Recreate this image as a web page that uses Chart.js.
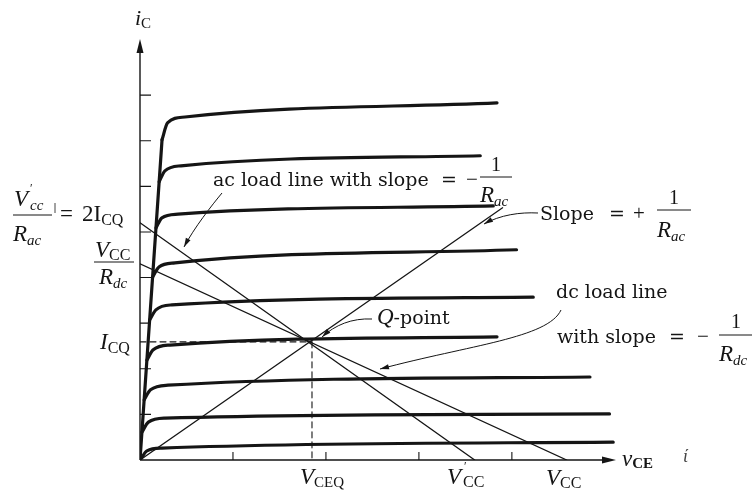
<!DOCTYPE html>
<html>
<head>
<meta charset="utf-8">
<script src="https://cdn.jsdelivr.net/npm/chart.js@4.4.1/dist/chart.umd.min.js"></script>
<style>
html, body { margin: 0; padding: 0; background: #fff; }
</style>
</head>
<body>
<canvas id="chart" width="754" height="499"></canvas>
<script>
// Transistor output characteristics with the dc and ac load lines

// tick marks on the axes
const vceTicks = [1, 2, 3, 4];
const icTicks = [1, 2, 3, 4, 5, 6, 7, 8];

// saturation edge shared by all curves
const satVce = [0, 0.237];
const satIc = [0, 7.02];

// one row per base-current curve: leaving the saturation edge, knee, flat part
const curveVce = [
  [0.237, 0.296, 0.484, 3.84],
  [0.206, 0.268, 0.441, 3.66],
  [0.172, 0.236, 0.409, 3.80],
  [0.136, 0.204, 0.376, 4.05],
  [0.104, 0.171, 0.344, 4.23],
  [0.074, 0.139, 0.323, 3.84],
  [0.045, 0.113, 0.301, 4.84],
  [0.021, 0.090, 0.269, 5.05],
  [0.000, 0.075, 0.237, 5.09]
];
const curveIc = [
  [7.02, 7.39, 7.52, 7.83],
  [6.10, 6.34, 6.45, 6.67],
  [5.09, 5.31, 5.39, 5.57],
  [4.01, 4.23, 4.32, 4.61],
  [3.07, 3.29, 3.40, 3.57],
  [2.19, 2.41, 2.52, 2.70],
  [1.32, 1.54, 1.64, 1.82],
  [0.61, 0.83, 0.92, 1.01],
  [0.00, 0.20, 0.26, 0.39]
];

// operating point and load lines
const vceq = 1.85, icq = 2.59;
const vccAc = 3.6, icAcMax = 5.2;     // V'cc and V'cc/Rac
const vccDc = 4.59, icDcMax = 4.3;    // Vcc and Vcc/Rdc
const posSlopeEnd = [3.9, 5.53];      // end of the +1/Rac line

const ink = '#151515';
const pts = (xs, ys) => xs.map((x, i) => ({ x: x, y: ys[i] }));

const datasets = [];
curveVce.forEach((xs, i) => {
  datasets.push({ data: pts(xs, curveIc[i]), borderWidth: 3.2, cubicInterpolationMode: 'monotone' });
});
datasets.push({ data: pts(satVce, satIc), borderWidth: 3.2 });
datasets.push({ data: pts([0, vccAc], [icAcMax, 0]), borderWidth: 1.3 });
datasets.push({ data: pts([0, vccDc], [icDcMax, 0]), borderWidth: 1.3 });
datasets.push({ data: pts([0, posSlopeEnd[0]], [0, posSlopeEnd[1]]), borderWidth: 1.3 });
datasets.push({ data: pts([0, vceq], [icq, icq]), borderWidth: 1.1, borderDash: [6, 4] });
datasets.push({ data: pts([vceq, vceq], [icq, 0]), borderWidth: 1.1, borderDash: [6, 4] });
datasets.forEach(d => {
  d.borderColor = ink;
  d.pointRadius = 0;
  d.fill = false;
  d.borderCapStyle = 'round';
});

const IT = 'italic 23px "Liberation Serif"';
const WORD = '19px "DejaVu Serif"';
const SUB = '16px "Liberation Serif"';
const SUBIT = 'italic 15px "Liberation Serif"';
const MATH = '21px "Liberation Serif"';
const ONE = '20px "Liberation Serif"';

// draw a run of text pieces: [text, font, dy]
function run(ctx, x, y, parts) {
  let cx = x;
  parts.forEach(p => {
    ctx.font = p[1];
    ctx.fillText(p[0], cx, y + (p[2] || 0));
    cx += ctx.measureText(p[0]).width;
  });
  return cx;
}

function hline(ctx, x1, x2, y) {
  ctx.beginPath();
  ctx.moveTo(x1, y);
  ctx.lineTo(x2, y);
  ctx.stroke();
}

function arrowHead(ctx, x, y, fromX, fromY, len, half) {
  const a = Math.atan2(y - fromY, x - fromX);
  ctx.beginPath();
  ctx.moveTo(x, y);
  ctx.lineTo(x - len * Math.cos(a) + half * Math.sin(a), y - len * Math.sin(a) - half * Math.cos(a));
  ctx.lineTo(x - len * Math.cos(a) - half * Math.sin(a), y - len * Math.sin(a) + half * Math.cos(a));
  ctx.closePath();
  ctx.fill();
}

function pointer(ctx, p0, c1, c2, p1) {
  ctx.beginPath();
  ctx.moveTo(p0[0], p0[1]);
  ctx.bezierCurveTo(c1[0], c1[1], c2[0], c2[1], p1[0], p1[1]);
  ctx.stroke();
  arrowHead(ctx, p1[0], p1[1], c2[0], c2[1], 9, 2.6);
}

const axesAndLabels = {
  id: 'axesAndLabels',
  afterDatasetsDraw(chart) {
    const ctx = chart.ctx;
    const xs = chart.scales.x, ys = chart.scales.y;
    const x0 = xs.getPixelForValue(0), y0 = ys.getPixelForValue(0);
    const xEnd = xs.right, yTop = ys.top;
    ctx.save();
    ctx.strokeStyle = ink;
    ctx.fillStyle = ink;
    ctx.lineWidth = 1.4;

    // axes with arrow heads
    ctx.beginPath();
    ctx.moveTo(x0, y0);
    ctx.lineTo(x0, yTop + 8);
    ctx.moveTo(x0, y0);
    ctx.lineTo(xEnd - 8, y0);
    ctx.stroke();
    arrowHead(ctx, x0, yTop, x0, y0, 14, 3.5);
    arrowHead(ctx, xEnd, y0, x0, y0, 14, 3.5);

    // tick marks drawn inside the plot
    ctx.lineWidth = 1.1;
    ctx.beginPath();
    icTicks.forEach(v => {
      const py = ys.getPixelForValue(v);
      ctx.moveTo(x0, py);
      ctx.lineTo(x0 + 11, py);
    });
    vceTicks.forEach(v => {
      const px = xs.getPixelForValue(v);
      ctx.moveTo(px, y0);
      ctx.lineTo(px, y0 - 8);
    });
    ctx.stroke();

    ctx.textBaseline = 'alphabetic';
    ctx.textAlign = 'left';

    // i_C axis title
    run(ctx, 135, 25, [['i', 'italic 22px "Liberation Serif"'], ['C', '15px "Liberation Serif"', 3]]);

    // V'cc / Rac = 2 ICQ
    ctx.font = IT;
    ctx.fillText('V', 14, 206);
    ctx.font = '12px "Liberation Serif"';
    ctx.fillText('\u2032', 30, 192);
    ctx.font = SUBIT;
    ctx.fillText('cc', 30, 210);
    ctx.lineWidth = 1;
    hline(ctx, 13, 52, 215);
    run(ctx, 13, 241, [['R', IT], ['ac', SUBIT, 4]]);
    ctx.lineWidth = 0.8;
    ctx.beginPath();
    ctx.moveTo(55, 203);
    ctx.lineTo(55, 213);
    ctx.stroke();
    ctx.font = '23px "Liberation Serif"';
    ctx.fillText('=', 60, 221);
    run(ctx, 82, 221, [['2I', '23px "Liberation Serif"'], ['CQ', SUB, 4]]);

    // Vcc / Rdc
    run(ctx, 95, 257, [['V', IT], ['CC', SUB, 3]]);
    ctx.lineWidth = 1;
    hline(ctx, 94, 134, 262);
    run(ctx, 99, 284, [['R', IT], ['dc', SUBIT, 4]]);

    // ICQ
    run(ctx, 100, 349, [['I', IT], ['CQ', SUB, 4]]);

    // ac load line note
    run(ctx, 213, 186, [['ac load line with slope', WORD]]);
    ctx.font = WORD;
    ctx.fillText('=', 441, 186);
    ctx.font = MATH;
    ctx.fillText('\u2212', 466, 186);
    ctx.font = ONE;
    ctx.fillText('1', 491, 171);
    hline(ctx, 480, 512, 177);
    run(ctx, 480, 202, [['R', IT], ['ac', SUBIT, 4]]);

    // slope = +1/Rac note
    run(ctx, 540, 220, [['Slope', WORD]]);
    ctx.font = WORD;
    ctx.fillText('=', 609, 220);
    ctx.font = MATH;
    ctx.fillText('+', 633, 220);
    ctx.font = ONE;
    ctx.fillText('1', 669, 204);
    hline(ctx, 657, 691, 210);
    run(ctx, 657, 237, [['R', IT], ['ac', SUBIT, 4]]);

    // Q-point
    run(ctx, 377, 324, [['Q', IT], ['-point', WORD]]);

    // dc load line note
    run(ctx, 556, 298, [['dc load line', WORD]]);
    run(ctx, 557, 343, [['with slope', WORD]]);
    ctx.font = WORD;
    ctx.fillText('=', 669, 343);
    ctx.font = MATH;
    ctx.fillText('\u2212', 697, 343);
    ctx.font = ONE;
    ctx.fillText('1', 731, 328);
    hline(ctx, 719, 752, 335);
    run(ctx, 719, 361, [['R', IT], ['dc', SUBIT, 4]]);

    // voltages on the vCE axis
    run(ctx, 300, 484, [['V', IT], ['CEQ', '15px "Liberation Serif"', 3]]);
    ctx.font = IT;
    ctx.fillText('V', 447, 484);
    ctx.font = '12px "Liberation Serif"';
    ctx.fillText('\u2032', 464, 470);
    ctx.font = SUB;
    ctx.fillText('CC', 463, 487);
    run(ctx, 546, 485, [['V', IT], ['CC', SUB, 3]]);
    run(ctx, 622, 466, [['v', IT], ['CE', 'bold 15px "Liberation Serif"', 2]]);
    ctx.fillStyle = '#444';
    ctx.font = 'italic 18px "Liberation Serif"';
    ctx.fillText('\u03af', 683, 462);
    ctx.fillStyle = ink;

    // pointers from the notes to the lines
    ctx.lineWidth = 1;
    pointer(ctx, [222, 193], [212, 205], [194, 228], [184, 247]);
    pointer(ctx, [538, 213], [520, 212], [500, 215], [484, 224]);
    pointer(ctx, [372, 319], [352, 318], [335, 325], [322, 337]);
    pointer(ctx, [561, 310], [548, 338], [470, 345], [380, 369]);

    ctx.restore();
  }
};

new Chart(document.getElementById('chart'), {
  type: 'line',
  data: { datasets: datasets },
  options: {
    responsive: false,
    devicePixelRatio: 1,
    animation: false,
    layout: { padding: { left: 140, right: 138, top: 39, bottom: 39 } },
    scales: {
      x: { type: 'linear', min: 0, max: 5.12, display: false },
      y: { type: 'linear', min: 0, max: 9.23, display: false }
    },
    plugins: { legend: { display: false }, tooltip: { enabled: false } },
    elements: { line: { tension: 0 } }
  },
  plugins: [axesAndLabels]
});
</script>
</body>
</html>
